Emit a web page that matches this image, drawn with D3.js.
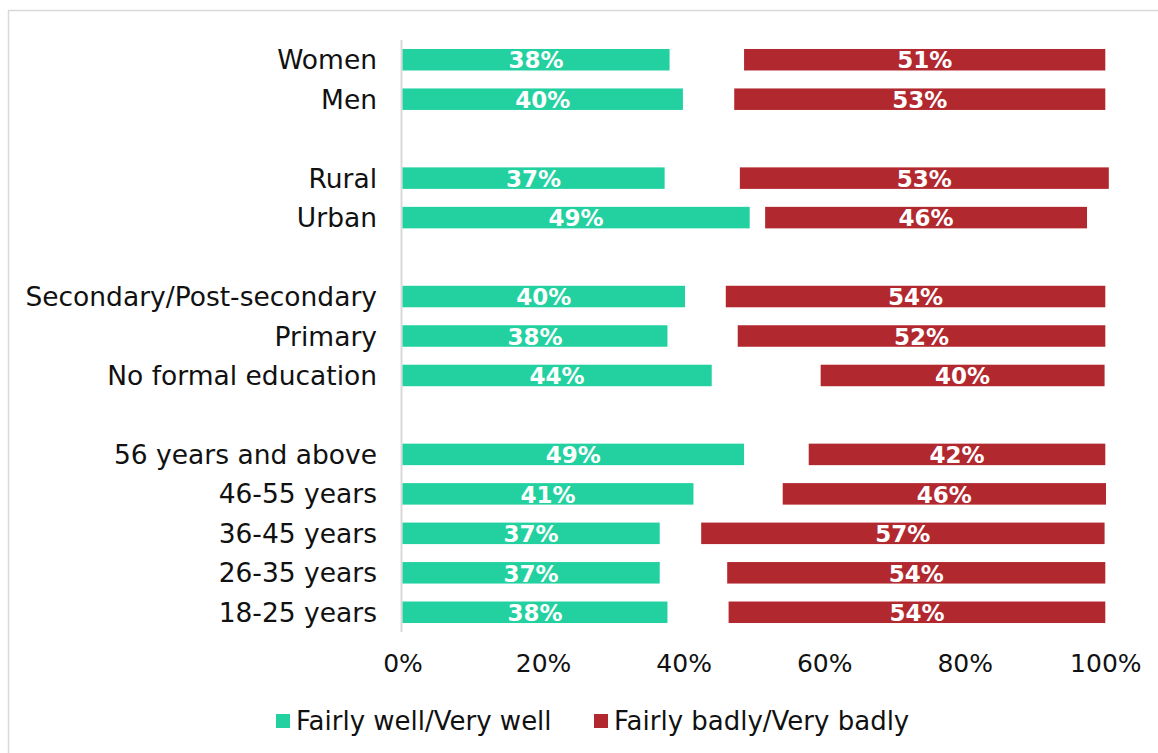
<!DOCTYPE html>
<html lang="en">
<head>
    <meta charset="UTF-8">
    <title>Fairly well vs fairly badly</title>
    <style>
        body {
            margin: 0;
            background: #fff;
        }
        svg text {
            font-family: "DejaVu Sans", sans-serif;
        }
    </style>
</head>
<body>
    <svg id="chart" width="1158" height="753"></svg>
    <script src="https://d3js.org/d3.v7.min.js"></script>
    <script>
        // rows top to bottom, grouped; a blank row separates groups
        const groups = [
            ['Women', 'Men'],
            ['Rural', 'Urban'],
            ['Secondary/Post-secondary', 'Primary', 'No formal education'],
            ['56 years and above', '46-55 years', '36-45 years', '26-35 years', '18-25 years']
        ];
        const well  = [38.0, 39.9, 37.3, 49.4, 40.2, 37.7, 44.0, 48.6, 41.4, 36.6, 36.6, 37.7];
        const other = [10.6,  7.3, 10.7,  2.2,  5.8, 10.0, 15.5,  9.2, 12.7,  5.9,  9.6,  8.7];
        const badly = [51.4, 52.8, 52.5, 45.8, 54.0, 52.3, 40.4, 42.2, 46.0, 57.4, 53.8, 53.6];
        const ticks = [0, 20, 40, 60, 80, 100];
        const seriesNames = ['Fairly well/Very well', 'Fairly badly/Very badly'];
        const colors = ['#23d1a0', '#b2282f'];

        const svg = d3.select('#chart');

        // outer frame (only left/top edges fall inside the picture)
        svg.append('rect')
            .attr('x', 8.5).attr('y', 10.5)
            .attr('width', 1200).attr('height', 800)
            .attr('fill', 'none')
            .attr('stroke', '#d9d9d9')
            .attr('stroke-width', 1.5);

        const categories = groups.flat();
        const domain = [];
        groups.forEach((g, i) => {
            if (i > 0) domain.push('gap' + i);
            g.forEach(c => domain.push(c));
        });

        const rows = categories.map((c, i) => ({
            name: c, well: well[i], other: other[i], badly: badly[i]
        }));

        const x = d3.scaleLinear().domain([0, 100]).range([402.5, 1105.3]);
        const y = d3.scaleBand().domain(domain).range([40, 632]).paddingInner(0.455).paddingOuter(0.2275);

        // vertical axis line
        svg.append('line')
            .attr('x1', x(0) - 1).attr('x2', x(0) - 1)
            .attr('y1', 40).attr('y2', 632)
            .attr('stroke', '#d9d9d9')
            .attr('stroke-width', 2);

        // category labels
        svg.selectAll('.cat')
            .data(rows)
            .enter()
            .append('text')
            .attr('x', 377)
            .attr('y', d => y(d.name) + y.bandwidth() / 2)
            .attr('dy', '0.36em')
            .attr('text-anchor', 'end')
            .attr('font-size', 26.5)
            .attr('fill', '#111')
            .text(d => d.name);

        const fmt = v => Math.round(v) + '%';

        // green bars
        const g1 = svg.selectAll('.well').data(rows).enter().append('g');
        g1.append('rect')
            .attr('x', x(0))
            .attr('y', d => y(d.name))
            .attr('width', d => x(d.well) - x(0))
            .attr('height', y.bandwidth())
            .attr('fill', colors[0]);
        g1.append('text')
            .attr('x', d => (x(0) + x(d.well)) / 2)
            .attr('y', d => y(d.name) + y.bandwidth() / 2)
            .attr('dy', '0.38em')
            .attr('text-anchor', 'middle')
            .attr('font-size', 23)
            .attr('font-weight', 'bold')
            .attr('fill', '#fff')
            .text(d => fmt(d.well));

        // red bars, placed after the unshown remainder
        const g2 = svg.selectAll('.badly').data(rows).enter().append('g');
        g2.append('rect')
            .attr('x', d => x(d.well + d.other))
            .attr('y', d => y(d.name))
            .attr('width', d => x(d.well + d.other + d.badly) - x(d.well + d.other))
            .attr('height', y.bandwidth())
            .attr('fill', colors[1]);
        g2.append('text')
            .attr('x', d => (x(d.well + d.other) + x(d.well + d.other + d.badly)) / 2)
            .attr('y', d => y(d.name) + y.bandwidth() / 2)
            .attr('dy', '0.38em')
            .attr('text-anchor', 'middle')
            .attr('font-size', 23)
            .attr('font-weight', 'bold')
            .attr('fill', '#fff')
            .text(d => fmt(d.badly));

        // x axis labels
        const xAxis = d3.axisBottom(x)
            .tickValues(ticks)
            .tickFormat(d => d + '%')
            .tickSize(0)
            .tickPadding(0);
        const ax = svg.append('g')
            .attr('transform', 'translate(0,654)')
            .call(xAxis);
        ax.select('.domain').remove();
        ax.selectAll('text')
            .attr('font-size', 25)
            .attr('font-family', '"DejaVu Sans", sans-serif')
            .attr('fill', '#111');

        // legend
        const legendX = [276, 594];
        const lg = svg.selectAll('.legend')
            .data(seriesNames)
            .enter()
            .append('g')
            .attr('transform', (d, i) => `translate(${legendX[i]},714)`);
        lg.append('rect')
            .attr('width', 14).attr('height', 14)
            .attr('fill', (d, i) => colors[i]);
        lg.append('text')
            .attr('x', 20)
            .attr('y', 7)
            .attr('dy', '0.36em')
            .attr('font-size', 26)
            .attr('fill', '#111')
            .text(d => d);
    </script>
</body>
</html>
